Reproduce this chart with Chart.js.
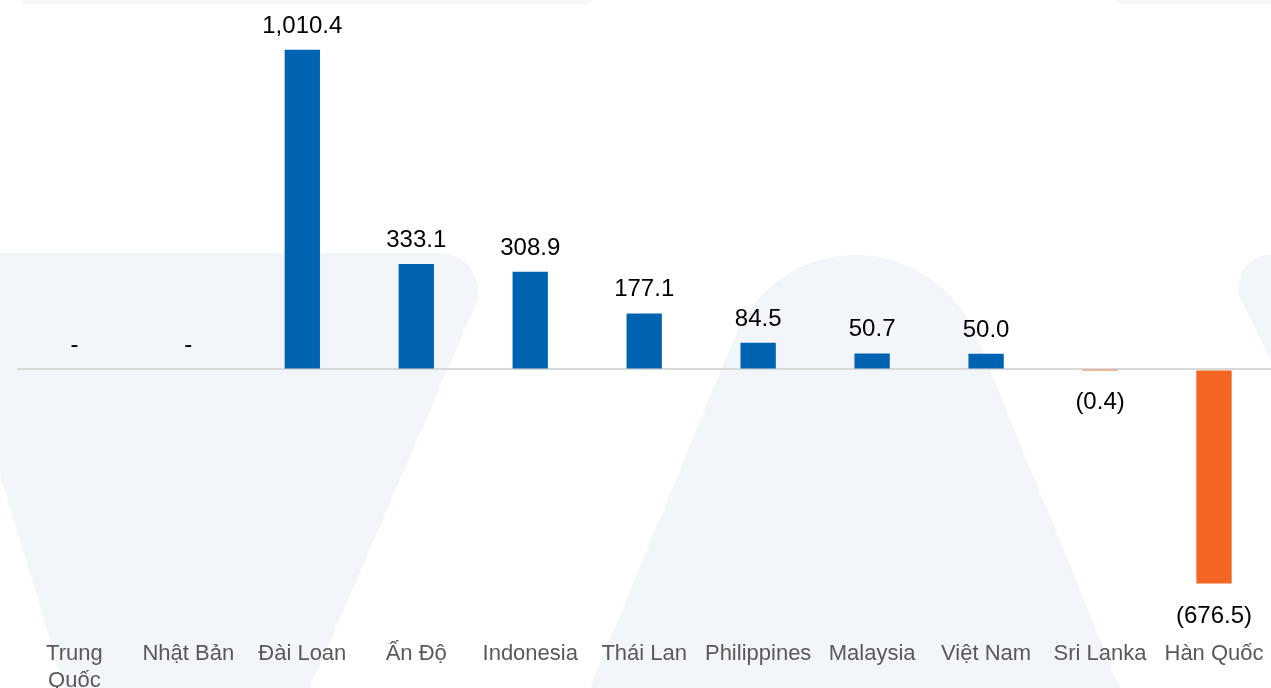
<!DOCTYPE html>
<html>
<head>
<meta charset="utf-8">
<script src="https://cdn.jsdelivr.net/npm/chart.js@4"></script>
<style>
html,body{margin:0;padding:0;background:#fff;}
#wrap{position:relative;width:1271px;height:688px;}
</style>
</head>
<body>
<div id="wrap"><canvas id="c" width="1271" height="688"></canvas></div>
<script>
const categories = [["Trung","Quốc"], "Nhật Bản", "Đài Loan", "Ấn Độ", "Indonesia", "Thái Lan", "Philippines", "Malaysia", "Việt Nam", "Sri Lanka", "Hàn Quốc"];
const values = [0, 0, 1010.4, 333.1, 308.9, 177.1, 84.5, 50.7, 50.0, -0.4, -676.5];
const positiveColor = "#0063B1";
const negativeColor = "#F26522";

function fmt(v){
  if (v === 0) return "-";
  const s = Math.abs(v).toLocaleString("en-US",{minimumFractionDigits:1,maximumFractionDigits:1});
  return v < 0 ? "(" + s + ")" : s;
}

const watermark = {
  id: "watermark",
  beforeDraw(chart){
    const ctx = chart.ctx;
    ctx.save();
    ctx.fillStyle = "#fff";
    ctx.fillRect(0,0,chart.width,chart.height);
    ctx.fillStyle = "#F2F5FA";
    // left V
    ctx.beginPath();
    ctx.moveTo(-10,253);
    ctx.lineTo(440,253);
    ctx.arcTo(498,253,310,688,38);
    ctx.lineTo(310,688);
    ctx.lineTo(65,688);
    ctx.lineTo(0,475);
    ctx.lineTo(-10,475);
    ctx.closePath();
    ctx.fill();
    // middle arch
    ctx.beginPath();
    ctx.moveTo(590,688);
    ctx.arcTo(856,43,1120,688,130);
    ctx.lineTo(1120,688);
    ctx.closePath();
    ctx.fill();
    // right shape
    ctx.beginPath();
    ctx.moveTo(1300,255);
    ctx.lineTo(1250,255);
    ctx.arcTo(1219,255,1290,400,32);
    ctx.lineTo(1290,400);
    ctx.lineTo(1300,400);
    ctx.closePath();
    ctx.fill();
    // top strips
    ctx.fillStyle = "#F6F7FB";
    ctx.beginPath();
    ctx.moveTo(20,-5);
    ctx.lineTo(595,-5);
    ctx.arcTo(590,4,580,4,6);
    ctx.lineTo(30,4);
    ctx.arcTo(22,4,20,-5,6);
    ctx.closePath();
    ctx.fill();
    ctx.beginPath();
    ctx.moveTo(1115,-5);
    ctx.lineTo(1280,-5);
    ctx.lineTo(1280,4);
    ctx.lineTo(1128,4);
    ctx.arcTo(1118,4,1115,-5,6);
    ctx.closePath();
    ctx.fill();
    ctx.restore();
  }
};

const valueLabels = {
  id: "valueLabels",
  afterDatasetsDraw(chart){
    const ctx = chart.ctx;
    const meta = chart.getDatasetMeta(0);
    ctx.save();
    ctx.font = "24px 'Liberation Sans', Arial, sans-serif";
    ctx.fillStyle = "#000";
    ctx.textAlign = "center";
    ctx.textBaseline = "alphabetic";
    meta.data.forEach((bar, i) => {
      const v = values[i];
      const x = bar.x;
      let y;
      if (v >= 0) y = Math.min(bar.y, bar.base) - 17;
      else y = Math.max(bar.y, bar.base) + 39;
      ctx.fillText(fmt(v), x, y);
    });
    ctx.restore();
  }
};

new Chart(document.getElementById("c"), {
  type: "bar",
  data: {
    labels: categories,
    datasets: [{
      data: values,
      backgroundColor: values.map(v => v < 0 ? negativeColor : positiveColor),
      borderWidth: 0,
      barPercentage: 1,
      categoryPercentage: 0.31
    }]
  },
  options: {
    responsive: false,
    animation: false,
    events: [],
    layout: { padding: { left: 17.4, right: 0, top: 0, bottom: 0 } },
    plugins: { legend: { display: false }, tooltip: { enabled: false } },
    scales: {
      x: {
        grid: { display: false },
        border: { display: false },
        ticks: {
          padding: -8,
          color: "#595959",
          maxRotation: 0,
          autoSkip: false,
          font: { family: "'Liberation Sans', Arial, sans-serif", size: 22, lineHeight: "27px" }
        },
        afterFit: s => { s.height = 48; }
      },
      y: {
        min: -854.7,
        max: 1167.5,
        border: { display: false },
        ticks: { display: false },
        grid: {
          drawTicks: false,
          lineWidth: 2,
          color: ctx => (ctx.tick && ctx.tick.value === 0) ? "#D9D9D9" : "rgba(0,0,0,0)"
        },
        afterBuildTicks: axis => { axis.ticks = [{ value: 0 }]; },
        afterFit: s => { s.width = 0; }
      }
    }
  },
  plugins: [watermark, valueLabels]
});
</script>
</body>
</html>
